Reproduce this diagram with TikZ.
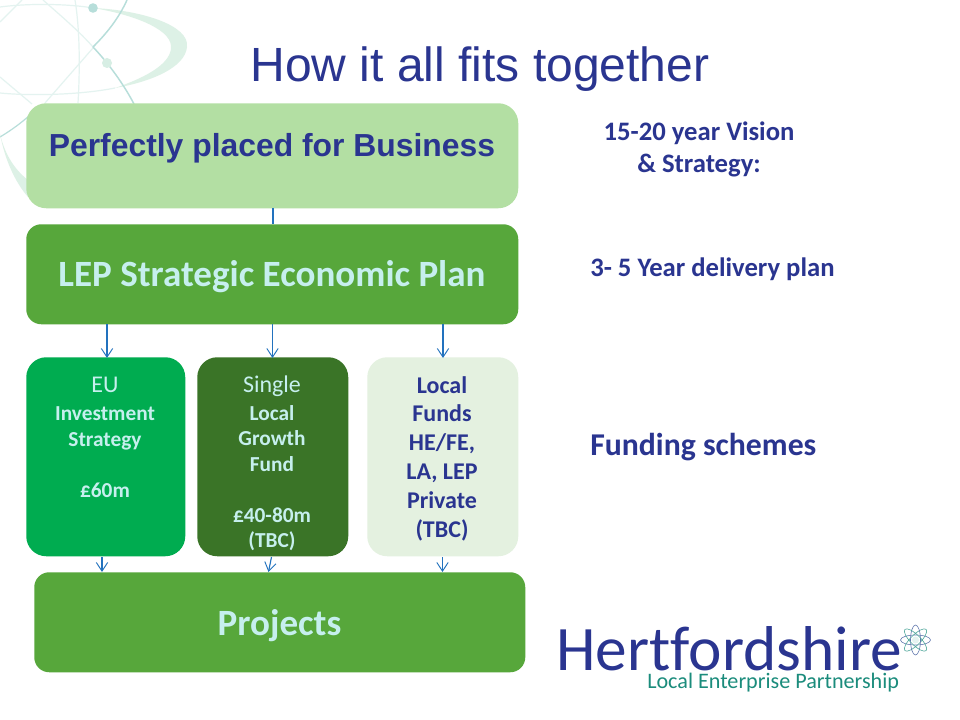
\documentclass[tikz,border=0pt]{standalone}
\usepackage{fontspec}
\setmainfont{Carlito}
\newfontfamily\arialf{Liberation Sans}
\newfontfamily\logof[Ligatures=NoCommon]{Carlito}
\usetikzlibrary{arrows.meta}
\definecolor{navy}{HTML}{2A3590}
\definecolor{paleblue}{HTML}{C6EFEE}
\definecolor{boxpale}{HTML}{B3DFA3}
\definecolor{boxmid}{HTML}{57A73B}
\definecolor{boxeu}{HTML}{00AC50}
\definecolor{boxsingle}{HTML}{3A7427}
\definecolor{boxlocal}{HTML}{E4F1E0}
\definecolor{wire}{HTML}{2272BE}
\definecolor{tealtxt}{HTML}{1B8C7C}
\definecolor{swoosh}{HTML}{DDF1E6}
\definecolor{swirl}{HTML}{B7DEDA}
\definecolor{faint}{HTML}{E4F3F0}
\newcommand{\fs}[2]{\fontsize{#1}{#2}\selectfont}
\tikzset{
  x=0.75pt,y=-0.75pt,
  panel/.style={inner sep=0pt,anchor=north west},
  link/.style={draw=wire,line width=0.85pt,-{Straight Barb[length=6.5pt,width=8.5pt,line width=0.7pt]}},
  plain/.style={draw=wire,line width=0.9pt},
  side/.style={text=navy,align=center,inner sep=0pt},
  coltext/.style={inner sep=0pt,align=center,anchor=north},
  thinswirl/.style={draw=faint,line width=0.9pt},
  midswirl/.style={draw=swirl,line width=1.1pt},
}
\begin{document}
\begin{tikzpicture}
\useasboundingbox (0,0) rectangle (960,720);
\fill[white] (0,0) rectangle (960,720);
% background swirl
\begin{scope}
\clip (0,0) rectangle (300,220);
\draw[thinswirl] (0,7) .. controls (30,3) and (70,4) .. (93,8);
\fill[swoosh] (93,8) .. controls (140,10) and (190,25) .. (187,47)
  .. controls (185,68) and (150,82) .. (115,88)
  .. controls (150,76) and (172,62) .. (171,46)
  .. controls (170,28) and (130,14) .. (93,8) -- cycle;
\draw[thinswirl] (115,88) .. controls (80,95) and (30,96) .. (0,93);
\draw[thinswirl] (0,77) -- (32,104);
\draw[thinswirl] (75,0) .. controls (80,30) and (80,70) .. (78,103);
\draw[thinswirl] (22,0) -- (0,22);
\draw[thinswirl] (93,48) -- (45,103);
\draw[thinswirl] (43,0) .. controls (60,15) and (80,32) .. (93,47);
\draw[midswirl] (127,0) .. controls (118,20) and (105,35) .. (93,47);
\draw[midswirl] (93,47) .. controls (110,65) and (124,85) .. (134,104);
\draw[draw=swirl,line width=0.9pt] (30,115) .. controls (20,124) and (10,131) .. (0,137);
\fill[swoosh] (0,134) .. controls (5,160) and (15,182) .. (28,197) -- (28,180) .. controls (15,170) and (5,155) .. (0,134) -- cycle;
\fill[swirl] (93,8) circle[radius=4.8];
\fill[swoosh!85!swirl] (107,63) circle[radius=5];
\end{scope}
% title
\node[text=navy,font=\arialf\fs{36}{40},inner sep=0pt] (title) at (480,69) {How it all fits together};
% boxes
\node[panel,minimum width=369pt,minimum height=78.75pt,fill=boxpale,rounded corners=15pt] (vision) at (26,103) {};
\node[text=navy,font=\arialf\bfseries\fs{23.9}{28},inner sep=0pt] (visiontxt) at (272,148) {Perfectly placed for Business};
\node[panel,minimum width=369pt,minimum height=75pt,fill=boxmid,rounded corners=11.25pt] (lep) at (26,224) {};
\node[text=paleblue,font=\bfseries\fs{27.8}{32},inner sep=0pt] (leptxt) at (272,277) {LEP Strategic Economic Plan};
\node[panel,minimum width=119.25pt,minimum height=149.25pt,fill=boxeu,rounded corners=15pt] (eu) at (26,357) {};
\node[panel,minimum width=113.25pt,minimum height=149.25pt,fill=boxsingle,rounded corners=15pt] (single) at (197,357) {};
\node[panel,minimum width=113.25pt,minimum height=149.25pt,fill=boxlocal,rounded corners=15pt] (local) at (367,357) {};
\node[panel,minimum width=368.25pt,minimum height=75pt,fill=boxmid,rounded corners=11.25pt] (projects) at (34,572) {};
\node[text=paleblue,font=\bfseries\fs{27.8}{32},inner sep=0pt] (projtxt) at (279.5,626) {Projects};
% texts in the columns
\node[coltext,text=paleblue,font=\bfseries\fs{16}{19.2}] (eutxt) at (105,377) {{\mdseries\fs{18}{19.2}EU}\\[2pt]Investment\\Strategy\\[19.2pt]£60m};
\node[coltext,text=paleblue,font=\bfseries\fs{16}{19.2}] (singletxt) at (272,376) {{\mdseries\fs{18}{19.2}Single}\\[1.2pt]Local\\Growth\\Fund\\[19pt]£40-80m\\(TBC)};
\node[coltext,text=navy,font=\bfseries\fs{18}{21.6}] (localtxt) at (442,376) {Local\\Funds\\HE/FE,\\LA, LEP\\Private\\(TBC)};
% side labels
\node[side,font=\bfseries\fs{20}{24}] (s1) at (699,149) {15-20 year Vision\\\& Strategy:};
\node[side,font=\bfseries\fs{20}{24},anchor=west] (s2) at (590,269) {3- 5 Year delivery plan};
\node[side,font=\bfseries\fs{23.8}{28},anchor=west] (s3) at (590,447) {Funding schemes};
% connectors
\coordinate (v1) at (273,208);
\coordinate (v2) at (273,224);
\draw[plain] (v1) -- (v2);
\coordinate (a1) at (107,324); \coordinate (b1) at (107,358);
\coordinate (a2) at (272.5,324); \coordinate (b2) at (272.5,358);
\coordinate (a3) at (443,324); \coordinate (b3) at (443,358);
\draw[link] (a1) -- (b1);
\draw[link] (a2) -- (b2);
\draw[link] (a3) -- (b3);
\coordinate (c1) at (102,557); \coordinate (d1) at (102,572);
\coordinate (c2) at (271.5,557); \coordinate (d2) at (268.5,572);
\coordinate (c3) at (442.5,557); \coordinate (d3) at (442.5,572);
\draw[link] (c1) -- (d1);
\draw[link] (c2) -- (d2);
\draw[link] (c3) -- (d3);
% logo
\node[text=navy,font=\logof\fs{47.5}{52},inner sep=0pt,anchor=base west] (logo) at (556,670) {Hertfordshire};
\node[text=tealtxt,font=\logof\fs{16.6}{20},inner sep=0pt,anchor=base west] (logosub) at (647,688) {Local Enterprise Partnership};
\foreach \a/\c in {0/navy!60!swirl,45/tealtxt!70!swirl,90/navy!60!swirl,135/tealtxt!70!swirl}{
  \draw[draw=\c,line width=0.45pt,rotate around={\a:(915.5,640)}] (915.5,640) ellipse[x radius=15,y radius=5];
}
\fill[faint] (915.5,640) circle[radius=3.5];
\end{tikzpicture}
\end{document}
